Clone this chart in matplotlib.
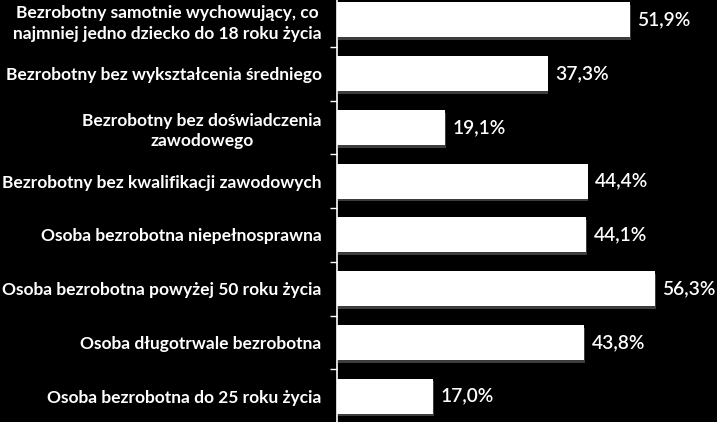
import matplotlib
matplotlib.use("Agg")
import matplotlib.pyplot as plt
import matplotlib.patheffects as pe

categories = [
    "Bezrobotny samotnie wychowujący, co\nnajmniej jedno dziecko do 18 roku życia",
    "Bezrobotny bez wykształcenia średniego",
    "Bezrobotny bez doświadczenia\nzawodowego",
    "Bezrobotny bez kwalifikacji zawodowych",
    "Osoba bezrobotna niepełnosprawna",
    "Osoba bezrobotna powyżej 50 roku życia",
    "Osoba długotrwale bezrobotna",
    "Osoba bezrobotna do 25 roku życia",
]
values = [51.9, 37.3, 19.1, 44.4, 44.1, 56.3, 43.8, 17.0]
value_labels = ["51,9%", "37,3%", "19,1%", "44,4%", "44,1%", "56,3%", "43,8%", "17,0%"]

plt.rcParams['font.family'] = ['Lato', 'DejaVu Sans']

W, H = 717, 422
fig = plt.figure(figsize=(W / 100, H / 100), dpi=100, facecolor='black')
left_px, right_px = 337, 705
top_px, bot_px = -7, 423
ax = fig.add_axes([left_px / W, (H - bot_px) / H, (right_px - left_px) / W, (bot_px - top_px) / H])
ax.set_facecolor('black')

px_per_unit = (655 - 337) / 56.3
ax.set_xlim(0, (right_px - left_px) / px_per_unit)
n = len(categories)
ax.set_ylim(n - 0.5, -0.5)

ypos = list(range(n))
bars = ax.barh(ypos, values, height=0.65, color='white', zorder=3)
for b in bars:
    b.set_path_effects([pe.SimplePatchShadow(offset=(0.5, -2), shadow_rgbFace='#666666', alpha=0.6), pe.Normal()])

for y, v, lab in zip(ypos, values, value_labels):
    ax.text(v + 1.3, y, lab, color='white', fontsize=13.8, fontweight='semibold',
            va='center', ha='left')

ax.set_yticks(ypos)
ax.set_yticklabels(categories, color='white', fontsize=12.5, fontweight='bold',
                   multialignment='center', linespacing=1.35)
ax.tick_params(axis='y', length=0, pad=11)
# category boundary tick marks
ax.set_yticks([i + 0.5 for i in range(-1, n)], minor=True)
ax.tick_params(axis='y', which='minor', length=5, color='white', width=1)
ax.set_xticks([])
for s in ['top', 'right', 'bottom']:
    ax.spines[s].set_visible(False)
ax.spines['left'].set_color('white')
ax.spines['left'].set_linewidth(1.2)
ax.spines['left'].set_zorder(4)

fig.savefig('out.png', dpi=100, facecolor='black')
